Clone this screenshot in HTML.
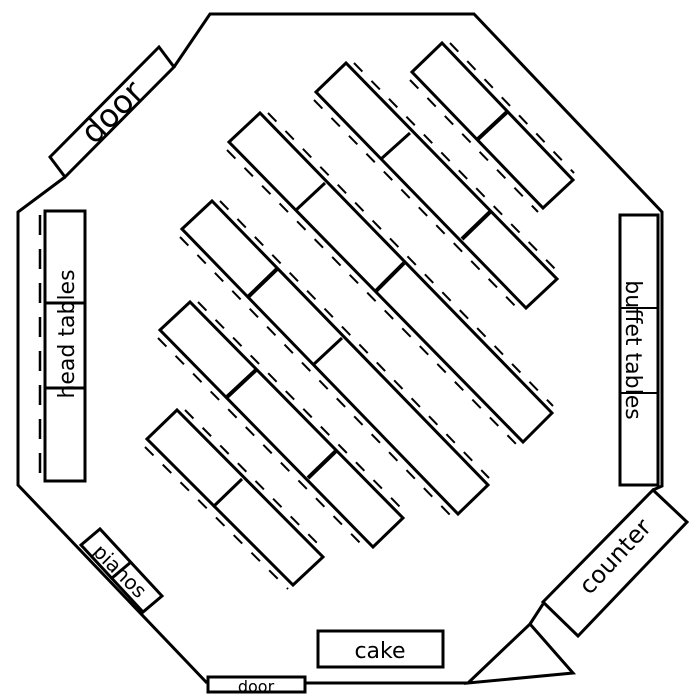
<!DOCTYPE html>
<html><head><meta charset="utf-8"><style>
html,body{margin:0;padding:0;background:#fff;}
svg{display:block;}
text{font-family:"DejaVu Sans","Liberation Sans",sans-serif;fill:#000;}
</style></head><body>
<svg width="700" height="700" viewBox="0 0 700 700" xmlns="http://www.w3.org/2000/svg">
<g fill="none" stroke="#000" stroke-width="3" stroke-linejoin="miter">
<polyline points="65,177 18,212 18,485 207,683"/>
<polyline points="174,67 210,14 474,14 662,212 662,486 653,490"/>
<line x1="543" y1="604" x2="530" y2="624"/>
<polyline points="305,683 468,683"/>
<polygon points="468,683 530,624 573,673" fill="#fff"/>
<polygon points="50,157 159,47 174,67 65,177" fill="#fff"/>
<rect x="208" y="677" width="97" height="15" fill="#fff"/>
<rect x="318" y="631" width="125" height="36"/>
<polygon points="653,490 687,522 578,636 543,602" fill="#fff"/>
<polygon points="81,545 100,529 162,596 143,612" fill="#fff"/>
<line x1="112" y1="578" x2="131" y2="562"/>
<rect x="45" y="211" width="40" height="270"/>
<line x1="45" y1="303" x2="85" y2="303"/>
<line x1="45" y1="388" x2="85" y2="388"/>
<line x1="40" y1="215" x2="40" y2="478" stroke-dasharray="20 14" stroke-width="2.5"/>
<rect x="620" y="215" width="38" height="270"/>
<line x1="620" y1="308" x2="658" y2="308" stroke-width="2"/>
<line x1="620" y1="393" x2="658" y2="393" stroke-width="2"/>
<line x1="658" y1="215" x2="658" y2="485" stroke-width="2"/>

<polygon points="412,72 442,43 573,180 543,208"/>
<line x1="507" y1="112" x2="478" y2="139" stroke-width="4"/>
<polygon points="316,92 346,63 557,279 526,308"/>
<line x1="410" y1="133" x2="381" y2="159"/>
<line x1="490" y1="212" x2="462" y2="239" stroke-width="4"/>
<polygon points="229,142 260,113 552,413 523,442"/>
<line x1="325" y1="183" x2="295" y2="211"/>
<line x1="404" y1="263" x2="376" y2="291" stroke-width="4"/>
<polygon points="182,229 212,201 488,485 458,514"/>
<line x1="277" y1="269" x2="248" y2="297" stroke-width="4"/>
<line x1="342" y1="338" x2="313" y2="365"/>
<polygon points="160,330 190,302 403,518 373,547"/>
<line x1="256" y1="370" x2="227" y2="397" stroke-width="4"/>
<line x1="337" y1="450" x2="308" y2="478" stroke-width="4"/>
<polygon points="147,439 177,410 323,557 293,585"/>
<line x1="242" y1="479" x2="213" y2="507"/>
</g>
<g fill="none" stroke="#000" stroke-width="2" stroke-dasharray="12 13">
<line x1="450" y1="43" x2="574" y2="173"/>
<line x1="410" y1="80" x2="538" y2="212"/>
<line x1="354" y1="63" x2="558" y2="272"/>
<line x1="314" y1="100" x2="521" y2="312"/>
<line x1="268" y1="113" x2="553" y2="406"/>
<line x1="227" y1="150" x2="518" y2="446"/>
<line x1="220" y1="201" x2="489" y2="478"/>
<line x1="180" y1="237" x2="453" y2="518"/>
<line x1="198" y1="302" x2="404" y2="511"/>
<line x1="158" y1="338" x2="368" y2="551"/>
<line x1="185" y1="410" x2="324" y2="550"/>
<line x1="145" y1="447" x2="288" y2="589"/>
</g>
<text x="112" y="123" font-size="32" text-anchor="middle" transform="rotate(-45 112 112)">door</text>
<text x="0" y="0" font-size="22" text-anchor="middle" transform="translate(74 334) rotate(-90)">head tables</text>
<text x="0" y="0" font-size="22" text-anchor="middle" transform="translate(626 350) rotate(90)">buffet tables</text>
<text x="0" y="0" font-size="24" text-anchor="middle" transform="translate(621 562) rotate(-47)">counter</text>
<text x="0" y="0" font-size="20" text-anchor="middle" transform="translate(115 576) rotate(45)">pianos</text>
<text x="380" y="658" font-size="22" text-anchor="middle">cake</text>
<text x="256" y="692" font-size="16" text-anchor="middle">door</text>
</svg>
</body></html>
